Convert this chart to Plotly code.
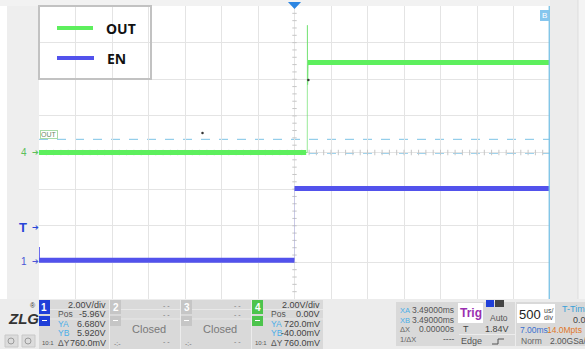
import plotly.graph_objects as go

W, H = 585, 349
FONT = "Liberation Sans"

# ---- acquisition settings ----
time_div_ms = 0.5          # 500 us/div, 14 divisions
volt_div = 2.0             # both channels 2 V/div
ch1_pos = -5.96            # EN offset (V)
ch4_pos = 0.0              # OUT offset (V)
trig_level = 1.84          # V on CH1
cursor_x_ms = [3.49, 3.49]
cursor_y_ch4 = [0.72, -0.04]

# ---- OUT (CH4) waveform, volts vs ms ----
out_edge_t = [-3.5, 0.175, 0.177, 0.180, 0.183, 0.186, 0.19, 3.5]
out_edge_v = [0.0, 0.0, 6.95, 3.7, 5.4, 4.7, 4.92, 4.92]
out_low_t, out_low_v = [-3.5, 0.16], [0.0, 0.0]
out_high_t, out_high_v = [0.185, 3.5], [4.92, 4.92]

# ---- EN (CH1) waveform, volts vs ms ----
en_edge_t = [-3.497, -3.497, -3.49, 0.0, 0.0, 3.5]
en_edge_v = [0.8, 0.0, 0.08, 0.08, 4.0, 4.0]
en_low_t, en_low_v = [-3.5, 0.0], [0.08, 0.08]
en_high_t, en_high_v = [0.0, 3.5], [4.0, 4.0]

# stray sample points on CH4
dot_t = [-1.26, 0.19]
dot_v = [1.07, 3.96]

GREEN = "#5def5d"
BLUE = "#5252ec"
CURSOR = "#7cc3e6"

n_h, n_v = 14, 8
x_half = n_h / 2 * time_div_ms
y4_half = n_v / 2 * volt_div
y4_range = [-y4_half - ch4_pos, y4_half - ch4_pos]
y1_range = [-y4_half - ch1_pos, y4_half - ch1_pos]

PLOT_L, PLOT_R, PLOT_T, PLOT_B = 39, 550, 6, 299


def px(x):
    return x / W


def py(y):
    return 1 - y / H


fig = go.Figure()

fig.add_trace(go.Scatter(x=out_edge_t, y=out_edge_v, mode="lines",
                         line=dict(color="rgba(110,225,110,0.7)", width=1),
                         hoverinfo="skip", showlegend=False))
for t, v in [(out_low_t, out_low_v), (out_high_t, out_high_v)]:
    fig.add_trace(go.Scatter(x=t, y=v, mode="lines", line=dict(color=GREEN, width=5),
                             name="OUT", showlegend=False))
fig.add_trace(go.Scatter(x=en_edge_t, y=en_edge_v, mode="lines", yaxis="y2",
                         line=dict(color="rgba(82,82,236,0.18)", width=1),
                         hoverinfo="skip", showlegend=False))
fig.add_trace(go.Scatter(x=en_edge_t[:3], y=en_edge_v[:3], mode="lines", yaxis="y2",
                         line=dict(color=BLUE, width=1.2), hoverinfo="skip",
                         showlegend=False))
for t, v in [(en_low_t, en_low_v), (en_high_t, en_high_v)]:
    fig.add_trace(go.Scatter(x=t, y=v, mode="lines", yaxis="y2",
                             line=dict(color=BLUE, width=5), name="EN", showlegend=False))
fig.add_trace(go.Scatter(x=dot_t, y=dot_v, mode="markers",
                         marker=dict(color="#333", size=2.5), showlegend=False))

shapes = []
ann = []


def rect(x0, y0, x1, y1, fill, line=None, lw=0, layer="below"):
    shapes.append(dict(type="rect", xref="paper", yref="paper",
                       x0=px(x0), x1=px(x1), y0=py(y1), y1=py(y0),
                       fillcolor=fill, line=dict(width=lw, color=line or fill),
                       layer=layer))


def hline_px(x0, x1, y, color, w=1, layer="above"):
    shapes.append(dict(type="line", xref="paper", yref="paper", x0=px(x0), x1=px(x1),
                       y0=py(y), y1=py(y), line=dict(color=color, width=w), layer=layer))


def text(x, y, s, size=9, color="#444", anchor="left", bold=False, family=FONT,
         **kw):
    ann.append(dict(x=px(x), y=py(y), xref="paper", yref="paper",
                    text=f"<b>{s}</b>" if bold else s, showarrow=False,
                    xanchor=anchor, yanchor="middle",
                    font=dict(size=size, color=color, family=family), **kw))


# ---- surrounding frame ----
rect(7, 0, PLOT_L, PLOT_B, "#eeeeee")
rect(0, 0, W, PLOT_T, "#f2f2f2")
rect(PLOT_R, 0, 578, PLOT_B, "#ececec")
rect(578, 0, W, PLOT_B, "#f4f4f4")
shapes.append(dict(type="line", xref="paper", yref="paper", x0=px(578), x1=px(578),
                   y0=py(PLOT_B), y1=py(0), line=dict(color="#dddddd", width=1)))

# ---- centre crosshair with minor ticks ----
AX_COL = "#c6c6c6"
shapes.append(dict(type="line", xref="x", yref="paper", x0=0, x1=0,
                   y0=py(PLOT_B), y1=py(PLOT_T), line=dict(color=AX_COL, width=1),
                   layer="between"))
shapes.append(dict(type="line", xref="paper", yref="y", x0=px(PLOT_L), x1=px(PLOT_R),
                   y0=0, y1=0, line=dict(color=AX_COL, width=1), layer="between"))
minor_x = time_div_ms / 5
for k in range(-34, 35):
    t = k * minor_x
    shapes.append(dict(type="line", xref="x", yref="y", x0=t, x1=t, y0=-0.15, y1=0.15,
                       line=dict(color=AX_COL, width=1), layer="between"))
minor_y = volt_div / 5
for k in range(-19, 20):
    v = k * minor_y
    shapes.append(dict(type="line", xref="x", yref="y", x0=-0.03, x1=0.03, y0=v, y1=v,
                       line=dict(color=AX_COL, width=1), layer="between"))

# ---- cursors ----
for v in cursor_y_ch4:
    shapes.append(dict(type="line", xref="paper", yref="y", x0=px(PLOT_L), x1=px(PLOT_R),
                       y0=v, y1=v, line=dict(color=CURSOR, width=1, dash="dash"),
                       layer="between"))
for t in cursor_x_ms:
    shapes.append(dict(type="line", xref="x", yref="paper", x0=t, x1=t,
                       y0=py(PLOT_B), y1=py(PLOT_T), line=dict(color=CURSOR, width=1),
                       layer="above"))
rect(540, 10, 549, 21, "#86c6ee", layer="above")
text(544.5, 15.5, "B", size=8, color="white", anchor="center")
ann.append(dict(x=px(PLOT_L + 1), y=cursor_y_ch4[0], xref="paper", yref="y",
                text="OUT", showarrow=False, xanchor="left", yanchor="bottom",
                font=dict(size=7, color="#6a8a6a", family=FONT),
                bordercolor="#a8dca8", borderwidth=1, borderpad=0, bgcolor="white"))

# ---- trigger position marker ----
shapes.append(dict(type="path", xref="x", yref="paper",
                   path=f"M -0.09,{py(2)} L 0.09,{py(2)} L 0,{py(9)} Z",
                   fillcolor="#2d86e2", line=dict(width=0), layer="above"))

# ---- channel markers ----
def marker(label, yref, yval, col, size=10, bold=False, arrow_size=11):
    ann.append(dict(x=px(29), y=yval, xref="paper", yref=yref,
                    text=f"<b>{label}</b>" if bold else label, showarrow=False,
                    xanchor="right", yanchor="middle",
                    font=dict(size=size, color=col, family=FONT)))
    ann.append(dict(x=px(29.5), y=yval, xref="paper", yref=yref, text="➔",
                    showarrow=False, xanchor="left", yanchor="middle",
                    font=dict(size=arrow_size - 3, color=col, family="DejaVu Sans")))


marker("4", "y", 0, "#5cbf5c")
marker("1", "y2", 0, "#4a55d6")
marker("T", "y2", trig_level, "#2745d8", size=13, bold=True)

# ---- legend box ----
rect(PLOT_L, PLOT_T, 151, 79, "rgba(0,0,0,0)", line="#c2c2c2", lw=2, layer="above")
hline_px(57, 93, 28, GREEN, w=4)
hline_px(57, 94, 58, BLUE, w=4)
text(104, 28, "OUT", size=14, color="#111", bold=True, family="Noto Sans")
text(105, 58, "EN", size=14, color="#111", bold=True, family="Noto Sans")

# ---- bottom status panel ----
rect(0, PLOT_B, W, H, "#ececec")
text(23, 318, "<i>ZLG</i>", size=15, color="#333", anchor="center", bold=True)
text(33, 305, "®", size=7, color="#333", anchor="center")
for x0 in (5, 22):
    rect(x0, 335, x0 + 13, 347, "#dcdcdc", line="#c8c8c8", lw=1)
    shapes.append(dict(type="circle", xref="paper", yref="paper", x0=px(x0 + 3),
                       x1=px(x0 + 9), y0=py(344), y1=py(338),
                       line=dict(color="#9a9a9a", width=1), layer="above"))

rows = [305, 314, 324, 333, 343]


def channel_block(x0, x1, num, col, lines, closed=False):
    rect(x0, 300, x1, H, "#d9d9d9")
    rect(x0, 300, x0 + 11, 314, col)
    rect(x0, 316, x0 + 11, 326, col)
    text(x0 + 5.5, 307, f"<b>{num}</b>", size=10, color="white", anchor="center")
    hline_px(x0 + 3, x0 + 8, 320.5, "white", w=1)
    hline_px(x0 + 11, x1, 309.5, "#e8e8e8", w=1, layer="below")
    hline_px(x0 + 11, x1, 319, "#e8e8e8", w=1, layer="below")
    if closed:
        text(x1 - 8, rows[0], "- -", size=7, color="#777", anchor="right")
        text(x1 - 8, rows[1], "- -", size=7, color="#777", anchor="right")
        text((x0 + x1) / 2 + 4, 329, "Closed", size=11, color="#7a7a7a", anchor="center")
        text(x0 + 2, 343, "-:-", size=7, color="#777")
        text(x1 - 8, 341, "- -", size=7, color="#777", anchor="right")
    else:
        text(x0 + 1, 343, "10:1", size=6, color="#555")
        labels = ["", "Pos", "YA", "YB", "ΔY"]
        lab_col = ["#444", "#555", "#4aaee8", "#4aaee8", "#555"]
        for r, lab, lc, val in zip(rows, labels, lab_col, lines):
            if lab:
                text(x0 + 17, r, lab, size=8.5, color=lc)
            text(x1 - 1, r, val, size=9, color="#444", anchor="right")


channel_block(39, 109, "1", "#1f3fd8",
              ["2.00V/div", "-5.96V", "6.680V", "5.920V", "760.0mV"])
channel_block(110, 180, "2", "#c6c6c6", [], closed=True)
channel_block(181, 251, "3", "#c6c6c6", [], closed=True)
channel_block(252, 323, "4", "#4cc44c",
              ["2.00V/div", "0.00V", "720.0mV", "-40.00mV", "760.0mV"])

# cursor readout
rect(396, 302, 459, 346, "#d9d9d9")
cur_rows = [310, 320, 329, 339]
for r, lab, lc, val in zip(cur_rows, ["XA", "XB", "ΔX", "1/ΔX"],
                           ["#4aaee8", "#4aaee8", "#666", "#666"],
                           ["3.49000ms", "3.49000ms", "0.00000s", "----"]):
    text(398, r, lab, size=7.5, color=lc)
    text(456, r, val, size=8.5, color="#555", anchor="right")

# trigger readout
rect(459, 302, 515, 346, "#d9d9d9")
rect(458, 303, 483, 323, "white")
text(470.5, 313, "Trig", size=12, color="#9a2fb0", anchor="center", bold=True)
rect(486, 300, 494, 307, "#1f3fd8")
rect(495, 300, 504, 307, "#444")
text(499, 318, "Auto", size=8.5, color="#555", anchor="center")
text(461, 329, "T", size=9, color="#444")
text(511, 329, "1.84V", size=9, color="#444", anchor="right")
hline_px(459, 515, 334.5, "#ececec", w=1, layer="below")
text(471, 341, "Edge", size=9, color="#555", anchor="center")
shapes.append(dict(type="path", xref="paper", yref="paper",
                   path=(f"M {px(492)},{py(344)} L {px(498)},{py(344)} L {px(498)},{py(339)} "
                         f"L {px(504)},{py(339)}"),
                   line=dict(color="#555", width=1), layer="above"))

# timebase readout
rect(516, 302, W, 346, "#d9d9d9")
rect(517, 304, 555, 323, "white")
text(530, 314, "500", size=13, color="#222", anchor="center")
text(548, 310, "us/", size=7, color="#444", anchor="center")
text(548, 317, "div", size=7, color="#444", anchor="center")
text(560, 309, "T-Time", size=9, color="#3aa0d8")
text(571, 320, "0.00s", size=9, color="#444")
text(518, 330, "7.00ms", size=8.5, color="#3a6fd0")
text(545, 330, "14.0Mpts", size=8.5, color="#e0782a")
text(519, 341, "Norm", size=8.5, color="#666")
text(548, 341, "2.00GSa/s", size=8.5, color="#555")

fig.update_layout(
    width=W, height=H,
    margin=dict(l=0, r=0, t=0, b=0),
    paper_bgcolor="white", plot_bgcolor="white",
    showlegend=False,
    xaxis=dict(domain=[px(PLOT_L), px(PLOT_R)], range=[-x_half, x_half],
               dtick=time_div_ms, tick0=0, showgrid=True, gridcolor="#e4e4e4",
               gridwidth=1, zeroline=False, showticklabels=False, ticks="",
               showline=False, fixedrange=True),
    yaxis=dict(domain=[py(PLOT_B), py(PLOT_T)], range=y4_range, dtick=volt_div,
               tick0=0, showgrid=True, gridcolor="#e4e4e4", gridwidth=1,
               zeroline=False, showticklabels=False, ticks="", showline=False,
               fixedrange=True),
    yaxis2=dict(overlaying="y", range=y1_range, showgrid=False, zeroline=False,
                showticklabels=False, ticks="", fixedrange=True),
    shapes=shapes,
    annotations=ann,
)

fig.write_html("out.html")
